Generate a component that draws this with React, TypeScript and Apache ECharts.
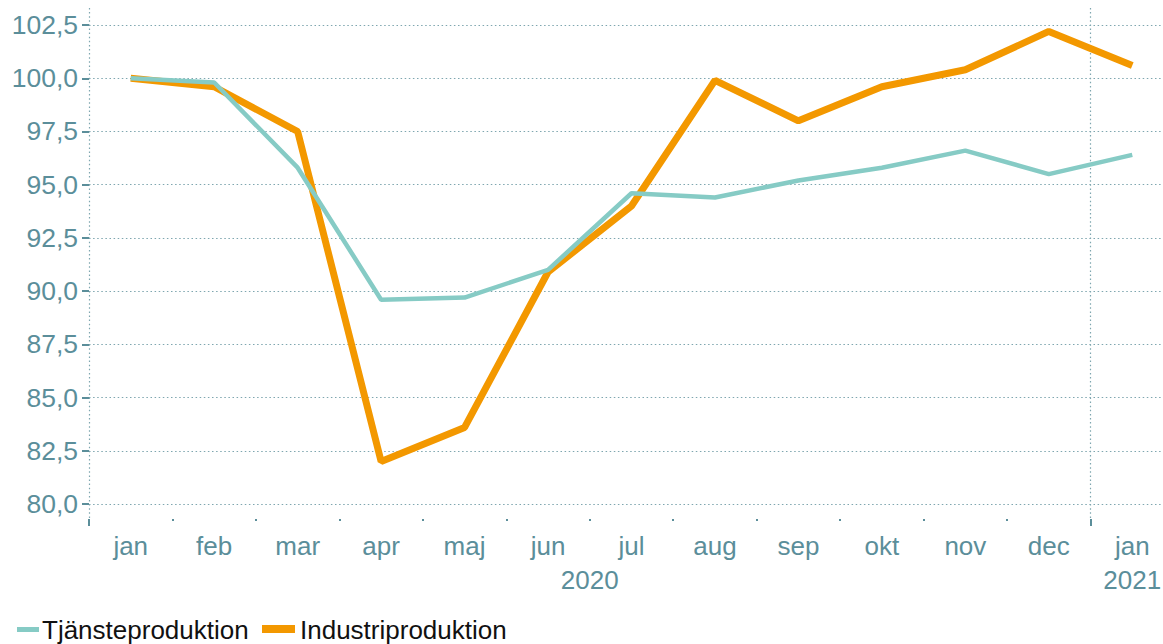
import React, { useEffect, useRef } from "react";
import * as echarts from "echarts";

const months = ["jan", "feb", "mar", "apr", "maj", "jun", "jul", "aug", "sep", "okt", "nov", "dec", "jan"];
const seriesNames = ["Tjänsteproduktion", "Industriproduktion"];
const tjansteproduktion = [100.0, 99.8, 95.8, 89.6, 89.7, 91.0, 94.6, 94.4, 95.2, 95.8, 96.6, 95.5, 96.4];
const industriproduktion = [100.0, 99.6, 97.5, 82.0, 83.6, 90.9, 94.0, 99.9, 98.0, 99.6, 100.4, 102.2, 100.6];
const yTicks = [80, 82.5, 85, 87.5, 90, 92.5, 95, 97.5, 100, 102.5];
const yearLabels = ["2020", "2021"];
const yearLabelPos = [6, 12.5];
const yearBoundaries = [0, 12];

const LABEL = "#5b8e9a";
const GRID = "#7ea6af";
const TEAL = "#86cbc5";
const ORANGE = "#f39800";
const FONT = "'Liberation Sans', Arial, sans-serif";

export default function App() {
  const ref = useRef<HTMLDivElement>(null);
  useEffect(() => {
    if (!ref.current) return;
    const chart = echarts.init(ref.current, undefined, { renderer: "svg" });
    const dotted = { type: [1.5, 2.6] as any, color: GRID, width: 1.2 };
    chart.setOption({
      animation: false,
      grid: { left: 89, width: 1085, top: 8, height: 511, containLabel: false, outerBoundsMode: "none" },
      xAxis: [
        {
          type: "category",
          data: months,
          boundaryGap: true,
          position: "bottom",
          axisLine: { show: false },
          axisTick: { show: true, interval: 0, length: 2, lineStyle: { color: LABEL, width: 2 } },
          axisLabel: { interval: 0, color: LABEL, fontSize: 26, fontFamily: FONT, margin: 14 },
          splitLine: { show: false },
        },
        {
          type: "value",
          min: 0,
          max: 13,
          position: "bottom",
          axisLine: { show: false },
          axisTick: { show: true, customValues: yearBoundaries, length: 7, lineStyle: { color: LABEL, width: 2 } },
          axisLabel: {
            show: true,
            customValues: yearLabelPos,
            formatter: (v: number) => yearLabels[yearLabelPos.indexOf(v)] ?? "",
            color: LABEL,
            fontSize: 26,
            fontFamily: FONT,
            margin: 48,
          },
          splitLine: { show: true, lineStyle: dotted },
        },
      ],
      yAxis: {
        type: "value",
        min: 79.3,
        max: 103.3,
        axisLine: { show: false },
        axisTick: { show: true, customValues: yTicks, length: 7, lineStyle: { color: LABEL, width: 2 } },
        axisLabel: {
          customValues: yTicks,
          formatter: (v: number) => v.toFixed(1).replace(".", ","),
          color: LABEL,
          fontSize: 26.5,
          fontFamily: FONT,
          margin: 11,
        },
        splitLine: { show: true, lineStyle: dotted },
      },
      series: [
        {
          name: seriesNames[1],
          type: "line",
          data: industriproduktion,
          xAxisIndex: 0,
          symbol: "none",
          lineStyle: { color: ORANGE, width: 7 },
          itemStyle: { color: ORANGE },
        },
        {
          name: seriesNames[0],
          type: "line",
          data: tjansteproduktion,
          xAxisIndex: 0,
          symbol: "none",
          lineStyle: { color: TEAL, width: 4.5 },
          itemStyle: { color: TEAL },
        },
      ],
      graphic: [
        { type: "rect", shape: { x: 17, y: 627, width: 22, height: 5 }, style: { fill: TEAL } },
        {
          type: "text",
          x: 42,
          y: 630,
          style: { text: seriesNames[0], fontSize: 26, fontFamily: FONT, fill: "#111", verticalAlign: "middle" },
        },
        { type: "rect", shape: { x: 262, y: 625, width: 33, height: 8 }, style: { fill: ORANGE } },
        {
          type: "text",
          x: 300,
          y: 630,
          style: { text: seriesNames[1], fontSize: 26, fontFamily: FONT, fill: "#111", verticalAlign: "middle" },
        },
      ],
    });
    return () => chart.dispose();
  }, []);
  return <div ref={ref} style={{ position: "absolute", left: 0, top: 0, width: 1163, height: 644 }} />;
}
